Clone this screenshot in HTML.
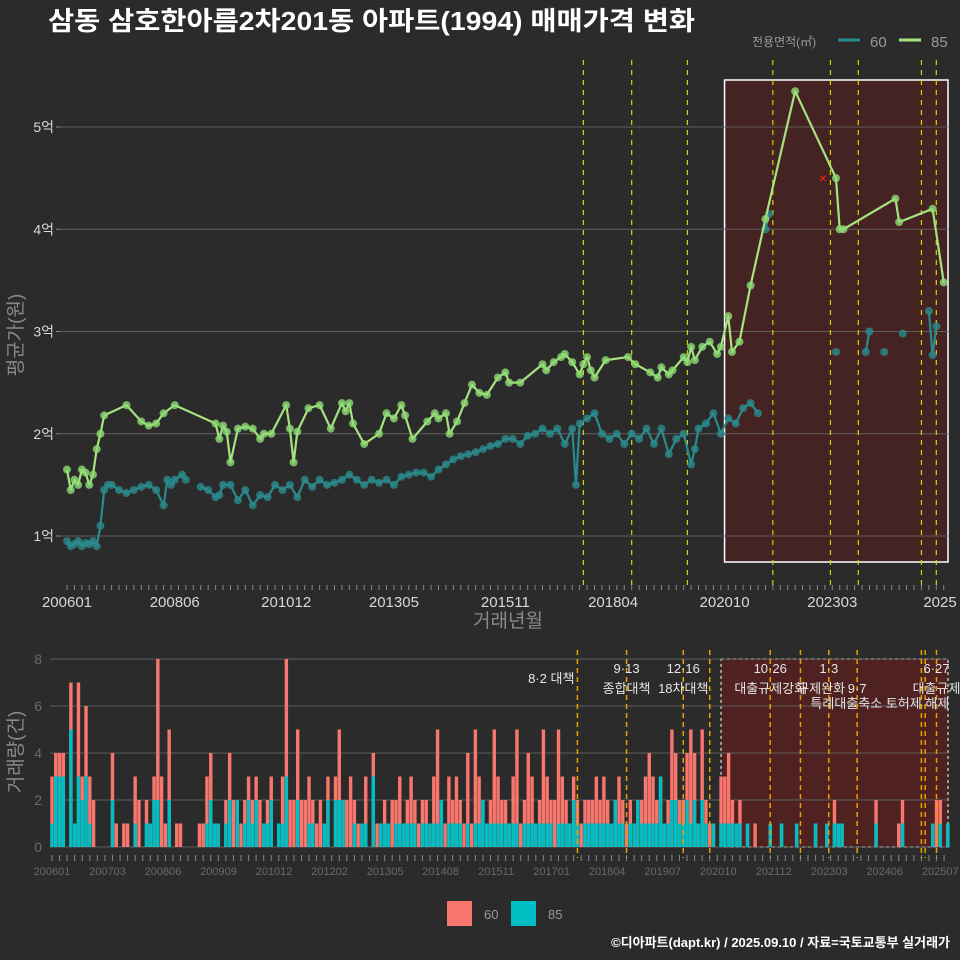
<!DOCTYPE html>
<html><head><meta charset="utf-8">
<style>
html,body{margin:0;padding:0;background:#2b2b2b;}
svg{display:block;font-family:"Liberation Sans","Noto Sans CJK KR",sans-serif;}
</style></head>
<body>
<svg id="chart" width="960" height="960" viewBox="0 0 960 960">
<rect x="0" y="0" width="960" height="960" fill="#2b2b2b"/>
<text x="48" y="30" fill="#ffffff" font-size="26" font-weight="bold" textLength="647" lengthAdjust="spacingAndGlyphs">삼동 삼호한아름2차201동 아파트(1994) 매매가격 변화</text>
<g>
<text x="752" y="46" fill="#9a9a9a" font-size="12">전용면적(㎡)</text>
<line x1="838" y1="40" x2="860" y2="40" stroke="#2a8a8c" stroke-width="3"/>
<text x="870" y="47" fill="#9a9a9a" font-size="15">60</text>
<line x1="899" y1="40" x2="921" y2="40" stroke="#a6e37f" stroke-width="3"/>
<text x="931" y="47" fill="#9a9a9a" font-size="15">85</text>
</g>
<g id="topPanel"></g>
<g id="botPanel"></g>
<text x="508" y="627" fill="#8a8a8a" font-size="19" text-anchor="middle">거래년월</text>
<text transform="translate(22,335) rotate(-90)" fill="#8a8a8a" font-size="19" text-anchor="middle">평균가(원)</text>
<text transform="translate(22,752) rotate(-90)" fill="#8a8a8a" font-size="19" text-anchor="middle">거래량(건)</text>
<g>
<rect x="447" y="901" width="25" height="25" fill="#f8766d"/>
<text x="484" y="919" fill="#9a9a9a" font-size="13">60</text>
<rect x="511" y="901" width="25" height="25" fill="#00bfc4"/>
<text x="548" y="919" fill="#9a9a9a" font-size="13">85</text>
</g>
<text x="950" y="947" fill="#ffffff" font-size="13" font-weight="bold" text-anchor="end">©디아파트(dapt.kr) / 2025.09.10 / 자료=국토교통부 실거래가</text>
</svg>
<script>
const priceMonths85 = [0,1,2,3,4,5,6,7,8,9,10,16,20,22,24,26,29,40,41,42,43,44,46,48,50,52,53,55,59,60,61,62,65,68,71,74,75,76,77,80,84,86,88,90,91,93,97,99,100,102,103,105,107,109,111,113,116,118,119,122,128,129,131,133,134,136,138,139,140,141,142,145,151,153,157,159,160,162,163,166,167,168,169,171,173,175,176,178,179,181,184,188,196,207,208,209,223,224,233,236];
const priceValues85 = [1.65,1.45,1.55,1.5,1.65,1.62,1.5,1.6,1.85,2.0,2.18,2.28,2.12,2.08,2.1,2.2,2.28,2.1,1.95,2.08,2.02,1.72,2.05,2.07,2.05,1.95,2.0,2.0,2.28,2.05,1.72,2.02,2.25,2.28,2.05,2.3,2.22,2.3,2.1,1.9,2.0,2.2,2.15,2.28,2.18,1.95,2.12,2.2,2.15,2.2,2.0,2.12,2.3,2.48,2.4,2.38,2.55,2.6,2.5,2.5,2.68,2.62,2.7,2.75,2.78,2.7,2.58,2.68,2.75,2.62,2.55,2.72,2.75,2.68,2.6,2.55,2.65,2.58,2.62,2.75,2.7,2.85,2.72,2.85,2.9,2.78,2.85,3.15,2.8,2.9,3.45,4.1,5.35,4.5,4.0,4.0,4.3,4.07,4.2,3.48];
const priceMonths60 = [0,1,2,3,4,5,6,7,8,9,10,11,12,14,16,18,20,22,24,26,27,28,29,31,32,36,38,40,41,42,44,46,48,50,52,54,56,58,60,62,64,66,68,70,72,74,76,78,80,82,84,86,88,90,92,94,96,98,100,102,104,106,108,110,112,114,116,118,120,122,124,126,128,130,132,134,136,137,138,140,142,144,146,148,150,152,154,156,158,160,162,164,166,168,169,170,172,174,176,178,180,182,184,186,188,189,207,215,216,220,225,232,233,234];
const priceValues60 = [0.95,0.9,0.92,0.95,0.9,0.93,0.92,0.95,0.9,1.1,1.45,1.5,1.5,1.45,1.42,1.45,1.48,1.5,1.45,1.3,1.55,1.5,1.55,1.6,1.55,1.48,1.45,1.38,1.4,1.5,1.5,1.35,1.45,1.3,1.4,1.38,1.5,1.45,1.5,1.38,1.55,1.48,1.55,1.5,1.52,1.55,1.6,1.55,1.5,1.55,1.52,1.55,1.5,1.58,1.6,1.62,1.62,1.58,1.65,1.7,1.75,1.78,1.8,1.82,1.85,1.88,1.9,1.95,1.95,1.9,1.98,2.0,2.05,2.0,2.05,1.9,2.05,1.5,2.1,2.15,2.2,2.0,1.95,2.0,1.9,2.0,1.95,2.05,1.9,2.05,1.8,1.95,2.0,1.7,1.85,2.05,2.1,2.2,2.0,2.15,2.1,2.25,2.3,2.2,4.0,4.15,2.8,2.8,3.0,2.8,2.98,3.2,2.77,3.05];
const annotMonth = 203.5;
const annotValue = 4.5;
const volTotal = [
3,4,4,4,0,7,1,7,3,6,3,2,
0,0,0,0,4,1,0,1,1,0,3,2,
0,2,1,3,8,3,1,5,0,1,1,0,
0,0,0,1,1,3,4,1,1,0,2,4,
2,2,1,2,3,2,3,2,1,2,3,0,
1,3,8,2,2,5,2,2,3,2,1,2,
1,3,0,3,5,2,2,3,2,1,1,3,
0,4,1,1,2,1,2,2,3,1,2,3,
2,1,2,2,1,3,5,2,1,3,2,3,
2,1,4,1,5,3,2,1,2,5,3,2,
2,1,3,5,1,2,4,3,1,2,5,3,
2,2,5,3,2,1,3,2,1,2,2,2,
3,2,3,2,1,2,3,2,1,2,1,2,
2,3,4,3,2,3,1,2,5,4,2,2,
4,5,4,1,5,2,1,1,0,3,3,4,
2,1,2,0,1,0,1,0,0,0,1,0,
0,1,0,0,0,1,0,0,0,0,1,0,
0,1,0,2,1,1,0,0,0,0,0,0,
0,0,2,0,0,0,0,0,1,2,0,0,
0,0,0,0,0,1,2,2,0,1];
const vol85 = [
1,3,3,3,0,5,1,3,2,3,1,0,
0,0,0,0,2,0,0,0,0,0,1,0,
0,1,1,2,2,0,0,2,0,0,0,0,
0,0,0,0,0,1,2,1,1,0,1,2,
0,2,0,1,2,1,2,0,1,1,2,0,
1,1,3,0,0,2,0,0,1,1,0,0,
1,2,0,2,2,2,0,0,1,0,1,1,
0,3,0,1,1,1,0,1,1,1,1,1,
1,0,1,1,1,1,1,2,0,1,1,1,
1,0,1,0,1,1,2,1,1,1,1,1,
1,1,1,1,0,1,1,1,1,1,1,1,
1,0,1,1,1,1,2,1,0,1,1,1,
1,1,1,1,1,2,1,1,0,1,1,2,
1,1,1,1,1,3,1,1,2,2,1,1,
2,1,2,1,2,1,0,1,0,1,1,1,
1,1,1,0,1,0,0,0,0,0,1,0,
0,1,0,0,0,1,0,0,0,0,1,0,
0,1,0,1,1,1,0,0,0,0,0,0,
0,0,1,0,0,0,0,0,0,1,0,0,
0,0,0,0,0,1,0,1,0,1];
const eventMonths = [139,152,167,174,190,198,205.5,213,230,231,234];
const topEventMonths = [139,152,167,190,205.5,213,230,234];
const priceTicks = [1,2,3,4,5];
const priceTickLabels = ["1억","2억","3억","4억","5억"];
const topXLabels = ["200601","200806","201012","201305","201511","201804","202010","202303","2025"];
const topXLabelMonths = [0,29,59,88,118,147,177,206,235];
const botXLabels = ["200601","200703","200806","200909","201012","201202","201305","201408","201511","201701","201804","201907","202010","202112","202303","202406","202507"];
const volTicks = [0,2,4,6,8];
const annotations = [
 {m:139,row:0,text:"8·2 대책",dx:-3,anchor:"end"},
 {m:152,row:-1,text:"9·13",dx:0,anchor:"middle"},
 {m:152,row:1,text:"종합대책",dx:0,anchor:"middle"},
 {m:167,row:-1,text:"12·16",dx:0,anchor:"middle"},
 {m:167,row:1,text:"18차대책",dx:0,anchor:"middle"},
 {m:190,row:-1,text:"10·26",dx:0,anchor:"middle"},
 {m:190,row:1,text:"대출규제강화",dx:0,anchor:"middle"},
 {m:205.5,row:-1,text:"1·3",dx:0,anchor:"middle"},
 {m:203.5,row:1,text:"규제완화",dx:0,anchor:"middle"},
 {m:213,row:1,text:"9·7",dx:0,anchor:"middle"},
 {m:219,row:2,text:"특례대출축소 토허제 해제",dx:0,anchor:"middle"},
 {m:234,row:-1,text:"6·27",dx:0,anchor:"middle"},
 {m:234,row:1,text:"대출규제",dx:0,anchor:"middle"}
];
const NS="http://www.w3.org/2000/svg";
const xT = m => 67 + m*3.715;
const yT = v => 536 - (v-1)*102.25;
const xB = m => 52 + m*3.78;
const yB = v => 847 - v*23.5;
function mk(tag, attrs, parent){const e=document.createElementNS(NS,tag);for(const k in attrs)e.setAttribute(k,attrs[k]);parent.appendChild(e);return e;}
const topG=document.getElementById('topPanel'), botG=document.getElementById('botPanel');

let hb=mk('rect',{x:xT(177),y:80,width:948-xT(177),height:482,fill:'rgba(110,25,25,0.4)',stroke:'#ffffff','stroke-width':1.5},topG);


priceTicks.forEach((t,i)=>{
 let g=mk('line',{x1:60,x2:948,y1:yT(t),y2:yT(t),stroke:'#5e5e5e','stroke-width':1},topG);
 
 
 let tk=mk('line',{x1:56,x2:60,y1:yT(t),y2:yT(t),stroke:'#888','stroke-width':1},topG);
 
 
 let l=mk('text',{x:54,y:yT(t)+5,fill:'#d8d8d8','font-size':14,'text-anchor':'end'},topG);
 l.textContent=priceTickLabels[i];
 
 
});
for(let m=0;m<=236;m+=2){
 let t=mk('line',{x1:xT(m),x2:xT(m),y1:585,y2:590,stroke:'#888','stroke-width':1},topG);
 
 
}
topXLabels.forEach((s,i)=>{
 let l=mk('text',{x:xT(topXLabelMonths[i]),y:607,fill:'#d8d8d8','font-size':15,'text-anchor':'middle'},topG);
 l.textContent=s;
 
 
});
topEventMonths.forEach(m=>{
 let l=mk('line',{x1:xT(m),x2:xT(m),y1:60,y2:590,stroke:'#d6d600','stroke-width':1.2,'stroke-dasharray':'5,5'},topG);
 
 
});
function drawSeries(months, vals, color, lineColor, name, gap, maxJump){
 let segs=[], cur=[];
 months.forEach((m,i)=>{
  if(cur.length && (m-months[i-1]>gap || Math.abs(vals[i]-vals[i-1])>maxJump)){segs.push(cur);cur=[];}
  cur.push([xT(m),yT(vals[i])]);
 });
 segs.push(cur);
 segs.forEach(s=>{
  if(s.length<2) return;
  let p=mk('polyline',{points:s.map(q=>q.join(',')).join(' '),fill:'none',stroke:lineColor,'stroke-width':2.2,'stroke-linejoin':'round'},topG);
  
  
 });
 months.forEach((m,i)=>{
  let c=mk('circle',{cx:xT(m),cy:yT(vals[i]),r:4,fill:color,'fill-opacity':0.8},topG);
  
  
 });
}
drawSeries(priceMonths60, priceValues60, '#2a8a8c', '#2a8a8c', 'series-60', 3, 1);
drawSeries(priceMonths85, priceValues85, '#8fdc74', '#a6e37f', 'series-85', 100, 100);
let xm=mk('text',{x:xT(annotMonth),y:yT(annotValue)+5,fill:'#ff1a1a','font-size':14,'text-anchor':'middle'},topG);
xm.textContent='×';



let bb=mk('rect',{x:xB(177),y:659,width:948-xB(177),height:188,fill:'rgba(110,25,25,0.55)',stroke:'#bbbbbb','stroke-width':1.5,'stroke-dasharray':'3,3'},botG);


volTicks.forEach(t=>{
 let g=mk('line',{x1:50,x2:948,y1:yB(t),y2:yB(t),stroke:'#5e5e5e','stroke-width':1},botG);
 
 
 let l=mk('text',{x:42,y:yB(t)+5,fill:'#6a6a6a','font-size':14,'text-anchor':'end'},botG);
 l.textContent=t;
 
 
});
const bw=3.4;
volTotal.forEach((v,m)=>{
 if(v>0){
  let r=mk('rect',{x:xB(m)-bw/2,y:yB(v),width:bw,height:yB(0)-yB(v),fill:'#f8766d'},botG);
  
  
 }
 const c=vol85[m];
 if(c>0){
  let r=mk('rect',{x:xB(m)-bw/2,y:yB(c),width:bw,height:yB(0)-yB(c),fill:'#00bfc4'},botG);
  
  
 }
});
for(let m=0;m<=236;m+=2){
 let t=mk('line',{x1:xB(m),x2:xB(m),y1:855,y2:861,stroke:'#888','stroke-width':1},botG);
 
 
}
botXLabels.forEach((s,i)=>{
 let l=mk('text',{x:xB(i*235/16),y:875,fill:'#6a6a6a','font-size':11,'text-anchor':'middle'},botG);
 l.textContent=s;
 
 
});
eventMonths.forEach(m=>{
 let l=mk('line',{x1:xB(m),x2:xB(m),y1:650,y2:858,stroke:'#e8a000','stroke-width':1.5,'stroke-dasharray':'5,4'},botG);
 
 
});
annotations.forEach(a=>{
 const y = a.row===-1?673:(a.row===0?683:(a.row===1?693:708));
 let t=mk('text',{x:xB(a.m)+a.dx,y:y,fill:'#e6e6e6','font-size':13,'text-anchor':a.anchor},botG);
 t.textContent=a.text;
 
 
});
</script>
</body></html>
